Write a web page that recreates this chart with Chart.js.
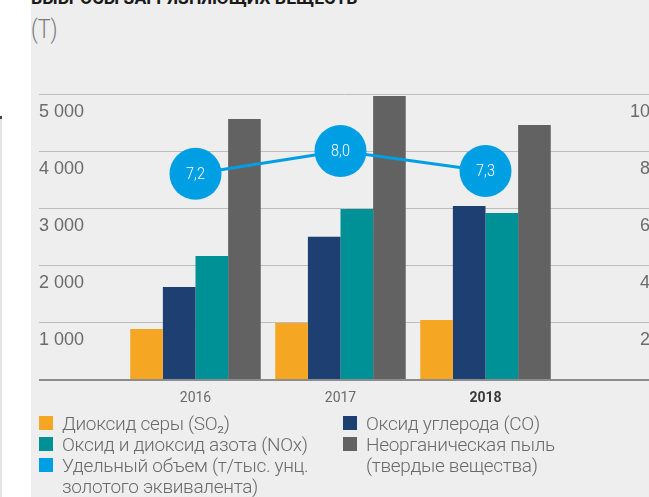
<!DOCTYPE html>
<html lang="ru">
<head>
<meta charset="utf-8">
<script src="https://cdn.jsdelivr.net/npm/chart.js@4"></script>
<style>
  html, body { margin: 0; padding: 0; background: #fff; }
  body { width: 649px; height: 497px; overflow: hidden; position: relative; font-family: Roboto, sans-serif; }
  .edge { position: absolute; left: 0; top: 116px; width: 2px; height: 381px; background: #e4e4e4; }
  .edge::before { content: ''; position: absolute; left: 0; top: 0; width: 2px; height: 3px; background: #444; }
  .panel { position: absolute; left: 31px; top: 0; width: 618px; height: 497px; background: #eeeeee; }
  .title { position: absolute; left: 31px; top: -11px; font: bold 19px Roboto, sans-serif;
           color: #1a1a1a; white-space: nowrap; line-height: 18px; transform: scaleX(0.93); transform-origin: left top; }
  .unit { position: absolute; left: 31px; top: 15px; font-size: 25px; font-weight: 300; color: #7a7a7a; line-height: 30px;
          transform: scaleX(0.85); transform-origin: left top; }
  .wrap { position: absolute; left: 0; top: 84px; width: 649px; height: 330px; overflow: hidden; }
  .wrap canvas { position: absolute; left: 0; top: 0; }
  .legend { position: absolute; left: 39px; top: 413px; display: flex; color: #6a6a6a; font-size: 19px; font-weight: 300; line-height: 21px; }
  .col { display: flex; flex-direction: column; }
  .col:first-child { width: 304px; }
  .col:last-child { width: 220px; }
  .item { display: flex; align-items: flex-start; }
  .txt { letter-spacing: -0.3px; }
  .sw { flex: none; width: 14px; height: 14px; margin-top: 3px; margin-right: 9px; }
</style>
</head>
<body>
<div class="edge"></div>
<div class="panel"></div>
<div class="title">ВЫБРОСЫ ЗАГРЯЗНЯЮЩИХ ВЕЩЕСТВ</div>
<div class="unit">(Т)</div>
<div class="wrap"><canvas id="chart" width="650" height="330"></canvas></div>
<div class="legend" id="legend"></div>

<script>
const years = ['2016', '2017', '2018'];

// emissions, tonnes
const so2 = [877, 982, 1035];
const co = [1614, 2496, 3035];
const nox = [2158, 2982, 2912];
const dust = [4561, 4965, 4456];

// t per thousand oz of gold equivalent
const specific = [7.2, 8.0, 7.3];

const leftTicks = [0, 1000, 2000, 3000, 4000, 5000];
const rightTicks = [0, 2, 4, 6, 8, 10];

const seriesNames = [
    'Диоксид серы (SO₂)',
    'Оксид углерода (CO)',
    'Оксид и диоксид азота (NOx)',
    'Неорганическая пыль (твердые вещества)',
    'Удельный объем (т/тыс. унц. золотого эквивалента)'
];
const seriesColors = ['#f5a623', '#1d3f72', '#009196', '#626262', '#009fe3'];

const narrow = 'Roboto, sans-serif';
const plain = "'Liberation Sans', Arial, sans-serif";

const fmt = v => String(v).replace(/\B(?=(\d{3})+(?!\d))/g, ' ');

// horizontal rules run across the whole panel, not only the plot area
const rules = {
    id: 'rules',
    beforeDatasetsDraw(chart) {
        const { ctx } = chart;
        const y = chart.scales.y;
        ctx.save();
        leftTicks.forEach(v => {
            const py = Math.round(y.getPixelForValue(v));
            ctx.beginPath();
            if (v === 0) {
                ctx.strokeStyle = '#8c8c8c';
                ctx.lineWidth = 2;
                ctx.moveTo(39, py + 1);
                ctx.lineTo(chart.width, py + 1);
            } else {
                ctx.strokeStyle = '#bdbdbd';
                ctx.lineWidth = 1;
                ctx.moveTo(39, py + 0.5);
                ctx.lineTo(chart.width, py + 0.5);
            }
            ctx.stroke();
        });
        ctx.restore();
    }
};

// values written inside the blue circles
const bubbleText = {
    id: 'bubbleText',
    afterDatasetsDraw(chart) {
        const { ctx } = chart;
        const meta = chart.getDatasetMeta(4);
        ctx.save();
        ctx.fillStyle = '#ffffff';
        ctx.font = '300 17px ' + narrow;
        ctx.textAlign = 'center';
        ctx.textBaseline = 'middle';
        meta.data.forEach((pt, i) => {
            ctx.save();
            ctx.translate(pt.x, pt.y + 1);
            ctx.scale(0.85, 1);
            ctx.fillText(specific[i].toFixed(1).replace('.', ','), 0, 0);
            ctx.restore();
        });
        ctx.restore();
    }
};

const bar = (i, data) => ({
    type: 'bar',
    label: seriesNames[i],
    data,
    backgroundColor: seriesColors[i],
    borderWidth: 0,
    categoryPercentage: 0.9,
    barPercentage: 1,
    yAxisID: 'y',
    order: 2
});

// value axes: fixed width, no extra room above the top rule
const fitSide = w => s => {
    s.width = w;
    s.paddingTop = 0;
    s.paddingBottom = 0;
};

new Chart(document.getElementById('chart'), {
    data: {
        labels: years,
        datasets: [
            bar(0, so2),
            bar(1, co),
            bar(2, nox),
            bar(3, dust),
            {
                type: 'line',
                label: seriesNames[4],
                data: specific,
                yAxisID: 'y1',
                borderColor: seriesColors[4],
                borderWidth: 3,
                pointRadius: 26,
                pointHoverRadius: 26,
                pointBackgroundColor: seriesColors[4],
                pointBorderWidth: 0,
                order: 1
            }
        ]
    },
    options: {
        responsive: false,
        animation: false,
        layout: { autoPadding: false, padding: { left: 39, right: 0, top: 10, bottom: 0 } },
        plugins: { legend: { display: false }, tooltip: { enabled: false } },
        scales: {
            x: {
                grid: { display: false },
                border: { display: false },
                afterFit: s => { s.height = 35; },
                ticks: {
                    padding: 3,
                    color: c => c.index === years.length - 1 ? '#3a3a3a' : '#6a6a6a',
                    font: c => ({
                        family: narrow,
                        size: 14,
                        weight: c.index === years.length - 1 ? 'bold' : 'normal'
                    })
                }
            },
            y: {
                position: 'left',
                min: 0,
                max: 5000,
                afterFit: fitSide(84),
                afterBuildTicks: s => { s.ticks = leftTicks.map(value => ({ value })); },
                grid: { display: false },
                border: { display: false },
                ticks: {
                    crossAlign: 'far',
                    labelOffset: 18,
                    color: '#6b6b6b',
                    font: { family: plain, size: 18 },
                    callback: v => v === 0 ? '' : fmt(v)
                }
            },
            y1: {
                position: 'right',
                min: 0,
                max: 10,
                afterFit: fitSide(92),
                afterBuildTicks: s => { s.ticks = rightTicks.map(value => ({ value })); },
                grid: { display: false },
                border: { display: false },
                ticks: {
                    crossAlign: 'far',
                    labelOffset: 18,
                    color: '#6b6b6b',
                    font: { family: plain, size: 18 },
                    callback: v => v === 0 ? '' : String(v)
                }
            }
        }
    },
    plugins: [rules, bubbleText]
});

// two-column legend: even entries on the left, odd on the right
const legend = document.getElementById('legend');
[0, 1].forEach(side => {
    const col = document.createElement('div');
    col.className = 'col';
    seriesNames.forEach((name, i) => {
        if (i % 2 !== side) return;
        const item = document.createElement('div');
        item.className = 'item';
        const sw = document.createElement('span');
        sw.className = 'sw';
        sw.style.background = seriesColors[i];
        const txt = document.createElement('span');
        txt.className = 'txt';
        txt.textContent = name;
        item.append(sw, txt);
        col.append(item);
    });
    legend.append(col);
});
</script>
</body>
</html>
